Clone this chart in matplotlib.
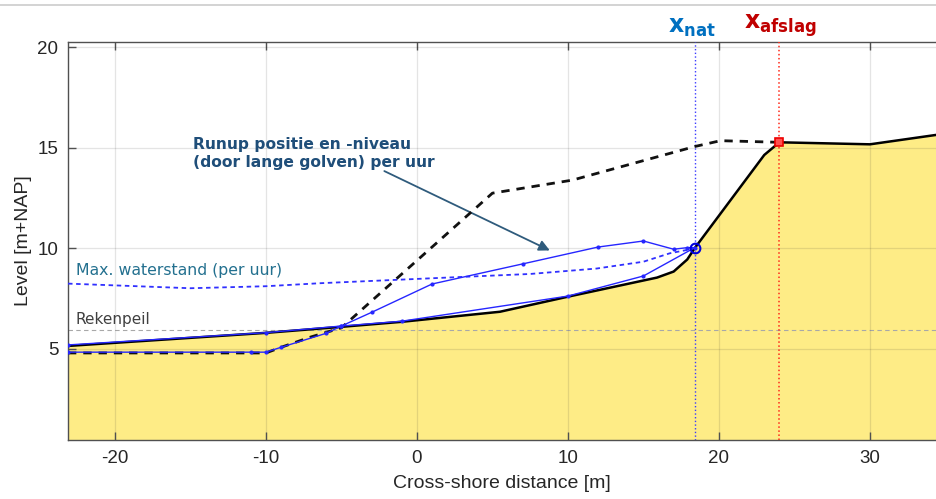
import matplotlib
matplotlib.use('Agg')
import matplotlib.pyplot as plt
import matplotlib.transforms as mtransforms

# profile after storm (solid black, filled)
profile_x = [-23.1, -10, -5, -1, 5.5, 10, 15.9, 17.0, 17.9, 18.4, 23.0, 24.0, 30.0, 34.4]
profile_z = [5.15, 5.8, 6.1, 6.35, 6.85, 7.6, 8.55, 8.85, 9.45, 10.02, 14.65, 15.28, 15.18, 15.65]

# initial profile (dashed black)
initial_x = [-23.1, -10, -9, -7, -5, 0.9, 5.0, 10.3, 18.4, 20.1, 24.0]
initial_z = [4.8, 4.8, 5.08, 5.6, 6.05, 10.0, 12.75, 13.4, 15.07, 15.36, 15.28]

# runup position/level per hour
runup_x = [-23.1, -11, -10, -9, -6, -5, -3, 1, 7, 12, 15, 17, 17.9, 18.4,
           15, 10, -1, -5, -10, -23.1]
runup_z = [4.84, 4.84, 4.84, 5.08, 5.78, 6.14, 6.82, 8.23, 9.23, 10.07, 10.37, 9.96, 10.04, 10.04,
           8.63, 7.63, 6.38, 6.14, 5.81, 5.2]

# max water level per hour (dashed blue)
maxwl_x = [-23.1, -15, -10, -6.4, -3.1, 3.5, 7.5, 11.9, 15, 16.75, 18.4]
maxwl_z = [8.25, 8.02, 8.12, 8.27, 8.38, 8.6, 8.73, 9.0, 9.34, 9.76, 10.0]

rekenpeil = 5.95
x_nat, z_nat = 18.4, 10.04
x_afslag, z_afslag = 24.0, 15.28

xticks = [-20, -10, 0, 10, 20, 30]
yticks = [5, 10, 15, 20]

plt.rcParams['font.family'] = ['Liberation Sans', 'DejaVu Sans']
plt.rcParams['axes.unicode_minus'] = False

fig = plt.figure(figsize=(9.36, 4.99), dpi=100)
ax = fig.add_axes([68 / 936, 59 / 499, 868 / 936, 398 / 499])

xmin, xmax = -23.1, 34.37
ymin, ymax = 0.47, 20.27

ax.fill_between(profile_x, profile_z, ymin, color='#feec86', lw=0, zorder=1)
ax.axhline(rekenpeil, color='#a8a8a8', lw=0.8, ls=(0, (4, 3)), zorder=2)
ax.plot(maxwl_x, maxwl_z, color='#3030ff', lw=1.3, ls=(0, (2.5, 2)), zorder=3)
ax.plot(initial_x, initial_z, color='#111111', lw=2, ls=(0, (3, 2.5)), zorder=4)
ax.plot(profile_x, profile_z, color='black', lw=1.8, zorder=5)
ax.plot(runup_x, runup_z, color='#2626ff', lw=1.0, marker='.', ms=4, zorder=6)

ax.axvline(x_nat, color='#3a3aff', lw=1.0, ls=':', zorder=3)
ax.axvline(x_afslag, color='#ff2a1a', lw=1.1, ls=':', zorder=3)
ax.plot([x_nat], [z_nat], marker='o', ms=7, mfc='none', mec='#0000dd', mew=1.5, zorder=7)
ax.plot([x_afslag], [z_afslag], marker='s', ms=6, mfc='#ff5050', mec='#ee0000', mew=1.2, zorder=7)

ax.set_xlim(xmin, xmax)
ax.set_ylim(ymin, ymax)
ax.set_xticks(xticks)
ax.set_yticks(yticks)
ax.grid(True, color='#262626', alpha=0.12, lw=0.9)
ax.set_axisbelow(False)

for s in ['left', 'bottom', 'top']:
    ax.spines[s].set_color('#505050')
    ax.spines[s].set_linewidth(1.0)
ax.spines['right'].set_visible(False)
ax.tick_params(direction='in', length=6, width=1, color='#505050', top=True,
               labelsize=13.5, labelcolor='#262626', pad=7)

ax.set_xlabel('Cross-shore distance [m]', fontsize=14, color='#262626', labelpad=6)
ax.set_ylabel('Level [m+NAP]', fontsize=14, color='#262626', labelpad=4)

# annotations
ax.annotate('Runup positie en -niveau\n(door lange golven) per uur',
            xy=(8.8, 9.9), xytext=(-14.8, 15.55),
            ha='left', va='top', fontsize=11.2, fontweight='bold', color='#1f4e79',
            family='DejaVu Sans', linespacing=1.25,
            arrowprops=dict(arrowstyle='-|>', color='#2f5b7c', lw=1.3,
                            mutation_scale=16, shrinkA=2, shrinkB=0,
                            patchA=None, relpos=(0.78, 0.0)))
ax.text(-22.6, 8.9, 'Max. waterstand (per uur)', fontsize=11.3, color='#23708f',
        family='DejaVu Sans', va='center', ha='left')
ax.text(-22.6, 6.48, 'Rekenpeil', fontsize=11, color='#404040',
        family='DejaVu Sans', va='center', ha='left')

trans = mtransforms.blended_transform_factory(ax.transData, ax.transAxes)
ax.text(x_nat - 0.2, 1.008, r'$\mathbf{x}_{\mathbf{nat}}$', transform=trans, ha='center', va='bottom',
        fontsize=17, color='#0070c0', clip_on=False)
ax.text(x_afslag + 0.1, 1.008, r'$\mathbf{x}_{\mathbf{afslag}}$', transform=trans, ha='center', va='bottom',
        fontsize=17, color='#c00000', clip_on=False)

# thin border line at the top of the image
fig.add_artist(plt.Line2D([0, 1], [1 - 4.5 / 499, 1 - 4.5 / 499], color='#cccccc', lw=1.2,
                          transform=fig.transFigure))

fig.savefig('out.png', dpi=100)
